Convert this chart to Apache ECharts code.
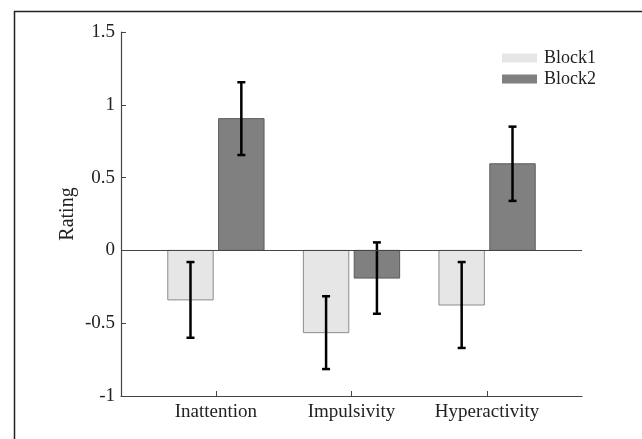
<!DOCTYPE html>
<html>
<head>
<meta charset="utf-8">
<script src="https://cdn.jsdelivr.net/npm/echarts@6/dist/echarts.min.js"></script>
<style>
  html, body { margin: 0; padding: 0; background: #fff; }
  #chart { width: 642px; height: 439px; }
</style>
</head>
<body>
<div id="chart"></div>
<script>
var categories = ['Inattention', 'Impulsivity', 'Hyperactivity'];
var block1 = [-0.34, -0.565, -0.375];
var block1Err = [0.26, 0.25, 0.295];
var block2 = [0.905, -0.19, 0.595];
var block2Err = [0.25, 0.245, 0.255];
var yTicks = [-1, -0.5, 0, 0.5, 1, 1.5];

var FONT = '"Liberation Serif", "Times New Roman", serif';
var BAR_W = 0.335;   // bar width in category units
var OFFSET = 0.1875; // half distance between the two bars

function makeRender(values, errs, shift, fill, edge) {
    return function (params, api) {
        var i = params.dataIndex;
        var x = i + 1 + shift;
        var v = values[i];
        var e = errs[i];
        var p0 = api.coord([x - BAR_W / 2, 0]);
        var p1 = api.coord([x + BAR_W / 2, v]);
        var top = api.coord([x, v + e]);
        var bot = api.coord([x, v - e]);
        var cap = 4;
        return {
            type: 'group',
            children: [
                {
                    type: 'rect',
                    shape: {
                        x: p0[0], y: Math.min(p0[1], p1[1]),
                        width: p1[0] - p0[0], height: Math.abs(p1[1] - p0[1])
                    },
                    style: { fill: fill, stroke: edge, lineWidth: 1 }
                },
                {
                    type: 'line',
                    shape: { x1: top[0], y1: top[1], x2: bot[0], y2: bot[1] },
                    style: { stroke: '#000', lineWidth: 2.5 }
                },
                {
                    type: 'line',
                    shape: { x1: top[0] - cap, y1: top[1], x2: top[0] + cap, y2: top[1] },
                    style: { stroke: '#000', lineWidth: 2.5 }
                },
                {
                    type: 'line',
                    shape: { x1: bot[0] - cap, y1: bot[1], x2: bot[0] + cap, y2: bot[1] },
                    style: { stroke: '#000', lineWidth: 2.5 }
                }
            ]
        };
    };
}

var chart = echarts.init(document.getElementById('chart'));

var option = {
    animation: false,
    backgroundColor: '#fff',
    graphic: [{
        type: 'rect',
        left: 12, top: 9,
        shape: { width: 700, height: 500 },
        style: { fill: 'none', stroke: '#222', lineWidth: 1.5 },
        silent: true
    }],
    grid: { left: 121, right: 60, top: 32, bottom: 43 },
    legend: {
        orient: 'vertical',
        left: 497, top: 44,
        icon: 'rect',
        itemWidth: 35, itemHeight: 9,
        itemGap: 3,
        textStyle: { fontFamily: FONT, fontSize: 18, color: '#222', padding: [0, 0, 0, 2] },
        data: ['Block1', 'Block2']
    },
    xAxis: {
        type: 'value',
        min: 0.3, max: 3.7,
        splitLine: { show: false },
        axisLine: { onZero: false, lineStyle: { color: '#444', width: 1.2 } },
        axisTick: { inside: true, length: 5, customValues: [1, 2, 3], lineStyle: { color: '#444' } },
        axisLabel: {
            customValues: [1, 2, 3],
            formatter: function (v) { return categories[Math.round(v) - 1]; },
            fontFamily: FONT, fontSize: 19, color: '#222', margin: 7
        }
    },
    yAxis: {
        type: 'value',
        min: -1, max: 1.5, interval: 0.5,
        name: 'Rating',
        nameLocation: 'middle',
        nameGap: 43,
        nameMoveOverlap: false,
        nameTextStyle: { fontFamily: FONT, fontSize: 20, color: '#222' },
        splitLine: { show: false },
        axisLine: { show: true, lineStyle: { color: '#444', width: 1.2 } },
        axisTick: { show: true, inside: true, length: 5, lineStyle: { color: '#444' } },
        axisLabel: {
            formatter: function (v) {
                return yTicks.indexOf(v) >= 0 ? String(v) : '';
            },
            fontFamily: FONT, fontSize: 19, color: '#222', margin: 6
        }
    },
    series: [
        {
            name: 'Block1',
            type: 'custom',
            renderItem: makeRender(block1, block1Err, -OFFSET, '#e6e6e6', '#8c8c8c'),
            itemStyle: { color: '#e6e6e6' },
            data: block1.map(function (v, i) { return [i + 1 - OFFSET, v]; }),
            markLine: {
                silent: true,
                symbol: 'none',
                label: { show: false },
                lineStyle: { color: '#444', width: 1.2, type: 'solid' },
                data: [{ yAxis: 0 }]
            }
        },
        {
            name: 'Block2',
            type: 'custom',
            renderItem: makeRender(block2, block2Err, OFFSET, '#808080', '#5a5a5a'),
            itemStyle: { color: '#808080' },
            data: block2.map(function (v, i) { return [i + 1 + OFFSET, v]; })
        }
    ]
};

chart.setOption(option);

window.addEventListener('resize', function () {
    chart.resize();
});
</script>
</body>
</html>
